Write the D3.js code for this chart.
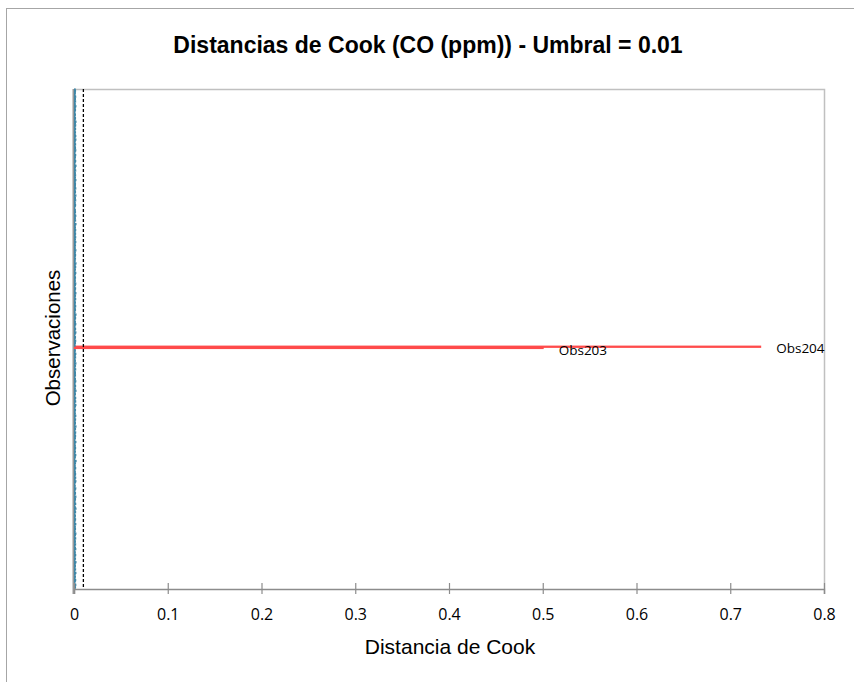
<!DOCTYPE html>
<html><head><meta charset="utf-8">
<script src="https://cdn.jsdelivr.net/npm/d3@7"></script>
<style>body{margin:0;background:#fff}</style>
</head><body><svg id="c" width="854" height="682"></svg>
<script>
const chartTitle = "Distancias de Cook (CO (ppm)) - Umbral = 0.01";
const xAxisTitle = "Distancia de Cook";
const yAxisTitle = "Observaciones";
const xTicks = [0, 0.1, 0.2, 0.3, 0.4, 0.5, 0.6, 0.7, 0.8];
const threshold = 0.01;
const cookValues = [
.0018,.0022,.0011,.0025,.0016,.0009,.0020,.0024,.0013,.0017,.0021,.0008,.0019,.0026,.0012,.0015,.0023,.0010,.0018,.0021,
.0014,.0020,.0027,.0011,.0016,.0022,.0009,.0018,.0024,.0013,.0019,.0017,.0010,.0025,.0021,.0012,.0016,.0023,.0008,.0020,
.0019,.0013,.0024,.0017,.0010,.0021,.0026,.0014,.0018,.0011,.0022,.0016,.0020,.0009,.0025,.0015,.0012,.0019,.0023,.0017,
.0011,.0021,.0016,.0008,.0023,.0018,.0013,.0027,.0020,.0015,.0010,.0024,.0017,.0012,.0019,.0022,.0014,.0026,.0009,.0018,
.0022,.0016,.0010,.0020,.0025,.0012,.0018,.0015,.0009,.0021,.0026,.0013,.0017,.0024,.0011,.0019,.0023,.0016,.0020,.0012,
.0017,.0024,.0013,.0019,.0011,.0022,.0016,.0028,.0014,.0010,.0020,.0018,.0025,.0012,.0016,.0021,.0009,.0019,.0023,.0015,
.0020,.0012,.0018,.0026,.0015,.0009,.0021,.0017,.0023,.0013,.0019,.0024,.0011,.0016,.0022,.0014,.0027,.0010,.0018,.0021,
.0013,.0019,.0023,.0010,.0017,.0025,.0014,.0020,.0012,.0018,.0022,.0009,.0016,.0021,.0026,.0011,.0015,.0024,.0019,.0013,
.0024,.0015,.0011,.0021,.0018,.0013,.0027,.0016,.0020,.0008,.0023,.0017,.0012,.0019,.0025,.0014,.0021,.0010,.0016,.0022,
.0016,.0021,.0019,.0012,.0024,.0017,.0010,.0022,.0015,.0026,.0013,.0020,.0018,.0011,.0023,.0016,.0019,.0025,.0014,.0017,
.0020,.0014,0.501,0.733,.0018,.0012,.0021,.0016,.0024,.0011,.0019,.0022,.0015,.0009,.0020,.0026,.0013,.0017,.0023,.0016,
.0012,.0019,.0025,.0016,.0021,.0010,.0018,.0023,.0014,.0020,.0027,.0013,.0017,.0011,.0022,.0019,.0015,.0024,.0018,.0012,
.0021,.0017,.0013,.0024,.0009,.0019,.0022,.0015,.0026,.0018,.0012,.0020,.0023,.0016,.0010,.0021,.0025,.0014,.0019,.0017,
.0015,.0022,.0018,.0011,.0020,.0025,.0013,.0017,.0021,.0009,.0024,.0016,.0019,.0027,.0012,.0018,.0014,.0022,.0010,.0020,
.0023,.0013,.0020,.0017,.0026,.0014,.0019,.0011,.0022,.0016,.0018,.0025,.0010,.0021,.0015,.0024,.0012,.0019,.0023,.0016,
.0018,.0024,.0012,.0021,.0016,.0019,.0027,.0013,.0010,.0023,.0017,.0020,.0014,.0025,.0018,.0011,.0022,.0016,.0020,.0013,
.0010,.0020,.0023,.0015,.0019,.0012,.0024,.0018,.0021,.0014,.0026,.0011,.0017,.0022,.0019,.0013,.0025,.0020,.0015,.0021,
.0022,.0016,.0019,.0026,.0011,.0021,.0015,.0023,.0017,.0020,.0012,.0024,.0018,.0014,.0021,.0027,.0016,.0010,.0019,.0024,
.0017,.0013,.0021,.0018,.0024,.0016,.0010,.0020,.0025,.0015,.0022,.0019,.0013,.0023,.0017,.0012,.0020,.0026,.0014,.0018,
.0025,.0019,.0014,.0022,.0017,.0013,.0023,.0011,.0019,.0024,.0016,.0021,.0027,.0015,.0018,.0022,.0010,.0017,.0021,.0016,
.0012,.0018,.0022,.0016,.0020,.0026,.0014,.0019,.0011,.0023,.0017,.0021,.0015,.0024,.0018,.0013,.0020,.0016,.0022,.0019
];
const observations = cookValues.map((_, i) => "Obs" + (i + 1));
const labelledObs = ["Obs203", "Obs204"];

const data = observations.map((o, i) => ({obs: o, v: cookValues[i]}));
const svg = d3.select("#c");
const L = 74, R = 824, T = 89, B = 589;
const sans = "'Liberation Sans', Arial, Helvetica, sans-serif";

// outer frame
svg.append("rect").attr("x", 6.5).attr("y", 8.5).attr("width", 900).attr("height", 700)
  .attr("fill", "none").attr("stroke", "#a6a6a6").attr("stroke-width", 1);

const x = d3.scaleLinear().domain([0, 0.8]).range([L, R]);
const y = d3.scaleBand().domain(observations).range([B, T]).padding(0);

// plot border top/right
svg.append("path").attr("d", `M${L},${T+0.5}H${R+0.5}V${B}`)
  .attr("fill", "none").attr("stroke", "#c0c0c0").attr("stroke-width", 1.5);

// y axis line (under the bars)
svg.append("line").attr("x1", L - 0.75).attr("x2", L - 0.75).attr("y1", T).attr("y2", B + 5)
  .attr("stroke", "#9a9a9a").attr("stroke-width", 1.5);

const barH = 2.3;
svg.append("g").selectAll("rect").data(data).join("rect")
  .attr("x", x(0))
  .attr("y", d => y(d.obs) + y.bandwidth() / 2 - barH / 2)
  .attr("width", d => x(d.v) - x(0))
  .attr("height", barH)
  .attr("fill", d => d.v > threshold ? "#ff4b4b" : "#3f86a6");

// threshold line
svg.append("line").attr("x1", x(threshold)).attr("x2", x(threshold))
  .attr("y1", T).attr("y2", B)
  .attr("stroke", "#000").attr("stroke-width", 1.3).attr("stroke-dasharray", "3,2");

// labels
svg.append("g").selectAll("text").data(data.filter(d => labelledObs.includes(d.obs))).join("text")
  .attr("x", d => x(d.v) + 15)
  .attr("y", d => y(d.obs) + y.bandwidth() / 2 + 3)
  .attr("dominant-baseline", "middle")
  .attr("font-family", "'Open Sans', sans-serif").attr("font-size", 13.5)
  .attr("fill", "#000")
  .text(d => d.obs);

// x axis
const xa = svg.append("g").attr("transform", `translate(0,${B})`)
  .call(d3.axisBottom(x).tickValues(xTicks).tickFormat(d => d === 0 ? "0" : d3.format(".1f")(d)).tickSize(5).tickPadding(15));
xa.select(".domain").attr("stroke", "#8c8c8c").attr("stroke-width", 1.5);
xa.selectAll(".tick line").attr("y1", -6).attr("y2", 5).attr("stroke", "#8c8c8c").attr("stroke-width", 1.2);
xa.selectAll(".tick text").attr("font-family", "'Open Sans', sans-serif").attr("font-size", 16).attr("fill", "#000");

// titles
svg.append("text").attr("x", 428).attr("y", 53).attr("text-anchor", "middle")
  .attr("font-family", sans).attr("font-weight", "bold").attr("font-size", 23)
  .text(chartTitle);
svg.append("text").attr("x", 450).attr("y", 654).attr("text-anchor", "middle")
  .attr("font-family", sans).attr("font-size", 21)
  .text(xAxisTitle);
svg.append("text").attr("transform", "translate(60,338) rotate(-90)").attr("text-anchor", "middle")
  .attr("font-family", sans).attr("font-size", 20.5)
  .text(yAxisTitle);
</script></body></html>
